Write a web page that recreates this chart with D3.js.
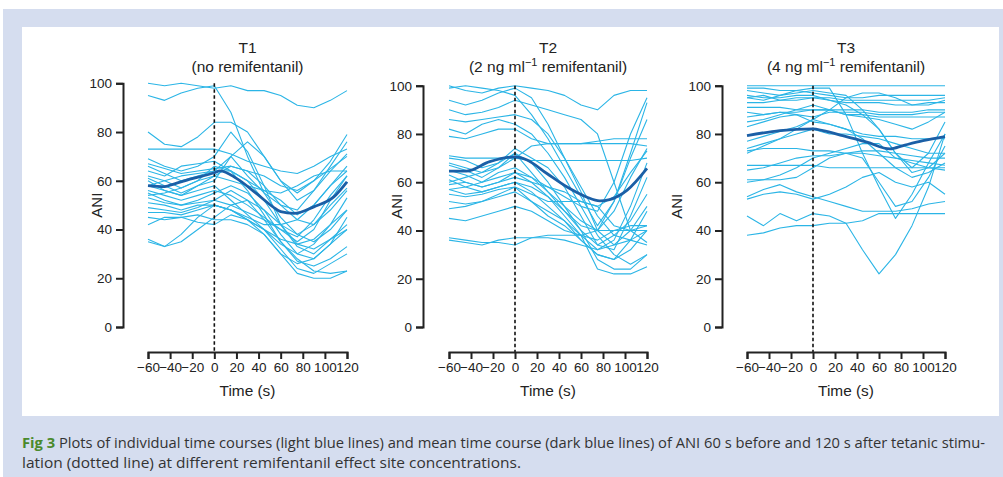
<!DOCTYPE html>
<html><head><meta charset="utf-8">
<script src="https://cdn.jsdelivr.net/npm/d3@7"></script>
<style>body{margin:0;background:#fff}svg{display:block}</style>
</head><body><svg id="c" width="1003" height="477"></svg>
<script>
// ---------- data ----------
const times = [-60,-45,-30,-15,0,15,30,45,60,75,90,105,120];
const xTicks = [-60,-40,-20,0,20,40,60,80,100,120];
const yTicks = [0,20,40,60,80,100];

const t1Lines = [
 [100,99,100,99,98,99,97,97,95,91,90,93,97],
 [95,93,96,98,99,88,70,55,45,38,35,40,48],
 [80,75,74,78,84,84,80,70,60,52,56,66,76],
 [73,73,73,73,73,71,68,66,64,63,66,70,73],
 [69,66,64,66,70,80,72,58,42,33,30,36,42],
 [67,65,63,64,65,66,64,62,58,56,60,68,79],
 [66,63,60,62,64,64,60,52,42,34,32,36,40],
 [64,62,66,67,68,64,56,46,35,27,25,28,33],
 [62,60,57,60,62,60,58,56,52,46,50,58,64],
 [60,56,54,58,62,66,64,58,50,44,42,48,56],
 [58,56,54,56,58,52,46,40,32,24,22,26,30],
 [56,54,52,54,56,54,50,45,40,35,40,52,62],
 [55,52,50,52,55,58,55,48,38,30,28,34,45],
 [53,51,50,51,52,50,47,44,40,37,44,54,62],
 [51,50,48,50,50,48,44,40,34,30,34,42,53],
 [49,48,47,49,52,56,52,44,35,28,23,22,23],
 [47,47,46,48,50,48,45,42,42,44,50,58,66],
 [45,44,45,46,44,44,42,38,30,22,20,20,23],
 [42,45,45,43,42,46,44,40,36,34,36,42,48],
 [36,33,38,45,50,48,44,38,30,26,28,34,40],
 [35,33,35,40,45,50,52,48,42,38,42,50,57],
 [61,58,55,58,60,70,76,70,60,55,60,65,70],
 [58,60,62,63,64,70,62,55,50,48,56,64,71],
 [54,55,57,60,66,64,60,56,55,58,62,64,64]
];
const t2Lines = [
 [100,98,97,99,100,99,98,96,92,90,96,98,98],
 [99,100,99,98,96,88,78,66,54,42,52,70,86],
 [94,92,94,97,99,95,84,70,56,40,34,40,50],
 [90,88,89,91,94,92,90,88,86,80,60,40,35],
 [86,85,86,87,88,86,80,70,58,46,38,36,40],
 [82,80,84,86,84,80,72,62,50,38,30,26,30],
 [79,78,80,82,82,78,76,76,76,77,78,78,78],
 [71,70,70,70,70,69,69,69,69,69,69,69,70],
 [70,69,66,68,74,70,66,58,46,34,32,46,62],
 [68,66,64,66,70,75,76,76,76,76,76,76,75],
 [67,65,62,66,72,68,60,50,40,28,24,24,30],
 [65,63,60,62,64,60,54,46,38,32,36,50,68],
 [63,60,58,60,64,62,56,48,42,40,48,62,74],
 [61,58,56,58,60,56,50,44,36,30,28,36,48],
 [59,60,58,60,62,60,58,56,52,50,54,64,73],
 [57,55,56,58,60,58,54,48,40,34,38,44,55],
 [55,54,55,57,58,55,52,52,52,50,42,40,42],
 [52,51,52,54,56,52,48,44,38,24,22,22,25],
 [49,50,52,55,58,52,46,42,36,30,28,32,40],
 [45,44,46,48,50,48,44,40,38,36,40,42,42],
 [37,36,35,35,34,37,37,36,34,32,34,36,34],
 [36,35,34,36,37,37,38,38,38,40,40,40,40],
 [57,58,60,64,66,62,58,54,50,48,60,80,95],
 [60,62,64,68,72,64,56,50,44,40,52,72,93]
];
const t3Lines = [
 [100,100,100,100,100,100,100,100,100,100,100,100,100],
 [99,99,98,98,99,99,88,72,58,45,55,68,80],
 [98,97,96,98,97,96,95,95,96,96,96,96,96],
 [96,95,95,96,96,94,92,88,82,72,64,66,72],
 [95,96,94,94,95,95,94,94,94,94,94,94,95],
 [91,91,91,90,90,90,90,90,89,89,89,90,90],
 [89,88,89,88,87,89,89,89,88,88,88,89,89],
 [85,86,88,90,92,90,88,88,87,87,87,87,87],
 [83,85,87,88,85,84,82,80,79,79,78,78,78],
 [74,76,78,80,82,80,80,79,78,76,74,72,72],
 [72,75,78,82,86,84,82,78,72,66,62,64,68],
 [77,79,81,83,86,90,95,97,97,95,92,92,94],
 [73,74,74,74,73,73,72,72,71,70,69,68,67],
 [67,67,67,67,67,66,66,66,66,66,66,66,66],
 [61,61,63,66,70,72,74,76,76,70,68,66,65],
 [60,61,61,62,66,70,72,70,60,50,52,62,75],
 [54,57,59,56,54,52,50,48,48,48,49,51,52],
 [53,55,56,55,53,55,58,62,64,60,58,60,55],
 [46,42,47,44,47,46,43,32,22,30,42,58,80],
 [38,39,41,42,42,43,43,44,47,47,47,47,47],
 [65,66,68,70,71,71,72,73,73,72,71,70,70],
 [95,94,96,97,98,97,96,90,82,72,66,72,85],
 [93,93,94,95,95,94,93,93,93,92,92,93,93],
 [87,88,89,89,90,90,88,87,86,84,82,85,89]
];

const t1MeanTimes = [-60,-45,-40,-22,0,5,20,38,53,60,72,90,108,120];
const t1MeanValues = [58,57.6,58.2,60.7,63.3,64.1,61,54.8,49.3,47.3,46.6,49.3,53.4,59.6];
const t2MeanTimes = [-60,-44,-23,0,11,29,47,65,77,86,102,120];
const t2MeanValues = [64.6,64.6,68.5,70.5,69.2,63.6,58.1,53.9,52.3,52.8,56.7,65.7];
const t3MeanTimes = [-60,-30,0,9,27,49,70,82,100,120];
const t3MeanValues = [79.3,81.4,82.1,81.4,79.3,76.6,73.8,75.2,77.2,78.9];

const titles = ["T1","T2","T3"];
const subtitles = ["(no remifentanil)","(2 ng ml|remifentanil)","(4 ng ml|remifentanil)"];
const xLabel = "Time (s)";
const yLabel = "ANI";
const captionLead = "Fig 3";
const captionLine1 = " Plots of individual time courses (light blue lines) and mean time course (dark blue lines) of ANI 60 s before and 120 s after tetanic stimu-";
const captionLine2 = "lation (dotted line) at different remifentanil effect site concentrations.";

// ---------- layout ----------
const panels = [
 {lines:t1Lines, mt:t1MeanTimes, mv:t1MeanValues, yAxisX:123, x0:148, x1:347, yTop:83.3, aniX:97},
 {lines:t2Lines, mt:t2MeanTimes, mv:t2MeanValues, yAxisX:423, x0:449, x1:647, yTop:85.7, aniX:397},
 {lines:t3Lines, mt:t3MeanTimes, mv:t3MeanValues, yAxisX:722, x0:747, x1:945, yTop:85.7, aniX:677}
];
const yBottom = 327, xAxisY = 352;
const light = "#2bb5e6", dark = "#1b5fa6", ink = "#222";
const font = "'Liberation Sans', Arial, Helvetica, sans-serif";

const svg = d3.select("#c");
svg.append("rect").attr("width",1003).attr("height",477).attr("fill","#fff");
svg.append("rect").attr("x",3).attr("y",9).attr("width",1000).attr("height",468).attr("fill","#d5ddef");
svg.append("rect").attr("x",22).attr("y",27).attr("width",977).attr("height",389).attr("fill","#fff");

panels.forEach((p,i)=>{
  const x = d3.scaleLinear().domain([-60,120]).range([p.x0,p.x1]);
  const y = d3.scaleLinear().domain([0,100]).range([yBottom,p.yTop]);
  const g = svg.append("g");
  const line = d3.line().x((d)=>x(d[0])).y((d)=>y(d[1]));
  g.selectAll("path.ind").data(p.lines).join("path").attr("class","ind")
    .attr("d",(vals)=>line(vals.map((v,k)=>[times[k],v])))
    .attr("fill","none").attr("stroke",light).attr("stroke-width",1.1).attr("stroke-linejoin","round");
  g.append("line").attr("x1",x(0)).attr("x2",x(0)).attr("y1",y(100)).attr("y2",xAxisY)
    .attr("stroke","#111").attr("stroke-width",1.6).attr("stroke-dasharray","3.5,2.5");
  const mline = d3.line().x((d)=>x(d[0])).y((d)=>y(d[1])).curve(d3.curveMonotoneX);
  g.append("path").attr("d",mline(p.mt.map((t,k)=>[t,p.mv[k]])))
    .attr("fill","none").attr("stroke",dark).attr("stroke-width",2.8);
  const ya = g.append("g").attr("transform",`translate(${p.yAxisX},0)`)
    .call(d3.axisLeft(y).tickValues(yTicks).tickSize(7).tickPadding(4));
  const xa = g.append("g").attr("transform",`translate(0,${xAxisY})`)
    .call(d3.axisBottom(x).tickValues(xTicks).tickSize(7).tickPadding(3));
  [ya,xa].forEach(a=>{
    a.select(".domain").attr("stroke",ink).attr("stroke-width",2);
    a.selectAll(".tick line").attr("stroke",ink).attr("stroke-width",2);
    a.selectAll("text").attr("fill","#222").style("font-family",font).style("font-size","13.5px");
  });
  const cx = (p.x0+p.x1)/2;
  g.append("text").attr("x",cx).attr("y",53).attr("text-anchor","middle")
    .style("font-family",font).style("font-size","15.5px").attr("fill","#222").text(titles[i]);
  const st = g.append("text").attr("x",cx).attr("y",72).attr("text-anchor","middle")
    .style("font-family",font).style("font-size","15.5px").attr("fill","#222");
  const parts = subtitles[i].split("|");
  st.append("tspan").text(parts[0]);
  if(parts.length>1){
    st.append("tspan").attr("dy",-6).style("font-size","11px").text("\u22121");
    st.append("tspan").attr("dy",6).text(" "+parts[1]);
  }
  g.append("text").attr("x",cx).attr("y",395.5).attr("text-anchor","middle")
    .style("font-family",font).style("font-size","15.4px").attr("fill","#222").text(xLabel);
  g.append("text").attr("transform",`translate(${p.aniX+5},${(y(0)+y(100))/2}) rotate(-90)`)
    .attr("text-anchor","middle").style("font-family",font).style("font-size","15px").attr("fill","#222").text(yLabel);
});

// caption
const cf = "'Open Sans', 'Noto Sans', sans-serif";
const c1 = svg.append("text").attr("x",22).attr("y",448).style("font-family",cf).style("font-size","14px")
  .attr("textLength",963).attr("lengthAdjust","spacingAndGlyphs");
c1.append("tspan").attr("fill","#4a8a2c").style("font-weight","bold").text(captionLead);
c1.append("tspan").attr("fill","#333").text(captionLine1);
svg.append("text").attr("x",22).attr("y",468).style("font-family",cf).style("font-size","14px")
  .attr("fill","#333").attr("textLength",499).attr("lengthAdjust","spacingAndGlyphs").text(captionLine2);
</script></body></html>
